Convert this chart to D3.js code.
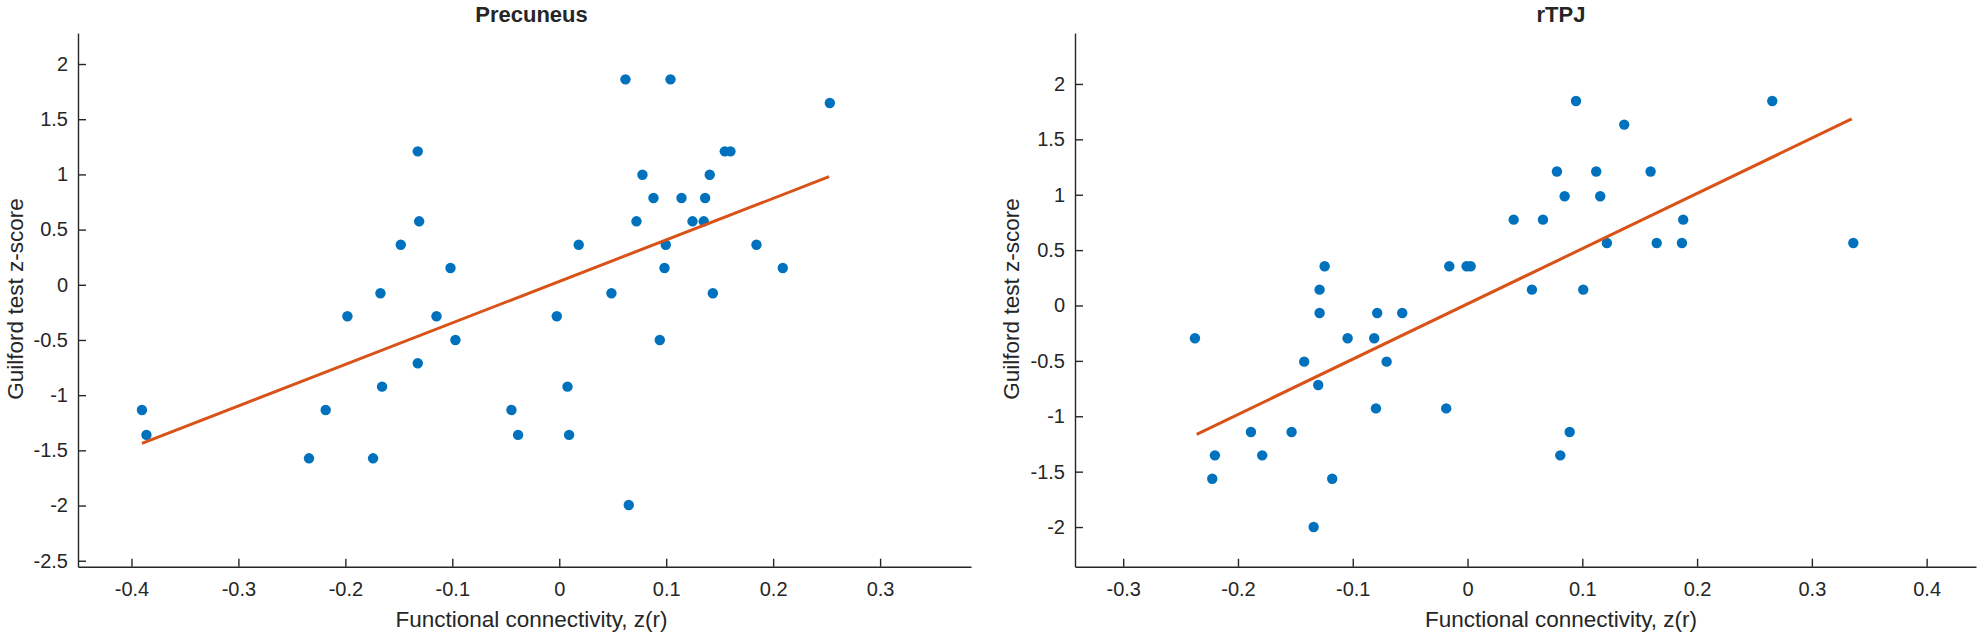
<!DOCTYPE html>
<html>
<head>
<meta charset="utf-8">
<script src="https://cdn.jsdelivr.net/npm/d3@7/dist/d3.min.js"></script>
<style>
  html, body { margin: 0; padding: 0; background: #ffffff; }
  svg { display: block; }
  text { font-family: "Liberation Sans", Arial, Helvetica, sans-serif; fill: #262626; }
</style>
</head>
<body>
<svg id="chart" width="1981" height="639"></svg>
<script>
// ---------- Data ----------
const panelTitles = ["Precuneus", "rTPJ"];
const xAxisLabel = "Functional connectivity, z(r)";
const yAxisLabel = "Guilford test z-score";

// Precuneus: functional connectivity (x) vs Guilford z-score (y)
const precX = [-0.1323, -0.1310, -0.1482, -0.1017, -0.1672, -0.1981, -0.1148, -0.0971, -0.1323, -0.1657,
               -0.2184, -0.3902, -0.3860, -0.2340, -0.1741, 0.0619, 0.1040, 0.2530, 0.1548, 0.1601,
               0.0778, 0.1407, 0.0881, 0.1143, 0.1364, 0.0722, 0.1246, 0.1351, 0.0182, 0.0996,
               0.1844, 0.0984, 0.2090, 0.0488, 0.1436, -0.0023, 0.0940, 0.0077, -0.0447, -0.0385,
               0.0092, 0.0650];
const precY = [1.209, 0.575, 0.363, 0.152, -0.077, -0.285, -0.285, -0.500, -0.711, -0.923,
               -1.134, -1.134, -1.360, -1.572, -1.572, 1.861, 1.861, 1.647, 1.209, 1.209,
               0.997, 0.997, 0.786, 0.786, 0.786, 0.575, 0.575, 0.575, 0.363, 0.363,
               0.363, 0.152, 0.152, -0.077, -0.077, -0.285, -0.500, -0.923, -1.134, -1.360,
               -1.360, -1.995];
const precFitX = [-0.3902, 0.2523];
const precFitY = [-1.436, 0.979];

// rTPJ
const rtpjX = [-0.2375, -0.1887, -0.2201, -0.1789, -0.2224, 0.0945, 0.1365, 0.0779, 0.1121, 0.1595,
               0.0846, 0.1156, 0.0402, 0.0657, 0.1879, 0.1214, 0.1648, 0.1868, -0.1245, -0.0159,
               -0.0008, 0.0027, -0.1289, 0.0561, 0.1008, -0.1289, -0.0787, -0.0569, -0.1045, -0.0813,
               -0.1423, -0.0705, -0.1301, -0.0798, -0.0186, -0.1533, 0.0890, 0.0808, -0.1179, -0.1341,
               0.2655, 0.3361];
const rtpjY = [-0.296, -1.142, -1.353, -1.353, -1.564, 1.846, 1.633, 1.210, 1.210, 1.210,
               0.986, 0.986, 0.775, 0.775, 0.775, 0.564, 0.564, 0.564, 0.354, 0.354,
               0.354, 0.354, 0.143, 0.143, 0.143, -0.068, -0.068, -0.068, -0.296, -0.296,
               -0.507, -0.507, -0.718, -0.929, -0.929, -1.142, -1.142, -1.353, -1.564, -2.000,
               1.846, 0.564];
const rtpjFitX = [-0.2360, 0.3347];
const rtpjFitY = [-1.163, 1.684];

// Axis limits and ticks
const precXDomain = [-0.45, 0.385];
const precYDomain = [-2.554, 2.281];
const precXTicks = [-0.4, -0.3, -0.2, -0.1, 0, 0.1, 0.2, 0.3];
const precYTicks = [-2.5, -2, -1.5, -1, -0.5, 0, 0.5, 1, 1.5, 2];

const rtpjXDomain = [-0.342, 0.443];
const rtpjYDomain = [-2.358, 2.46];
const rtpjXTicks = [-0.3, -0.2, -0.1, 0, 0.1, 0.2, 0.3, 0.4];
const rtpjYTicks = [-2, -1.5, -1, -0.5, 0, 0.5, 1, 1.5, 2];

// ---------- Drawing ----------
const svg = d3.select("#chart");
svg.append("rect").attr("width", 1981).attr("height", 639).attr("fill", "#ffffff");

const MARKER = "#0072BD";
const FIT = "#D95319";
const AXIS = "#262626";

function drawPanel(cfg) {
  const x = d3.scaleLinear().domain(cfg.xDomain).range([cfg.left, cfg.right]);
  const y = d3.scaleLinear().domain(cfg.yDomain).range([cfg.bottom, cfg.top]);
  const g = svg.append("g");

  const fmt = d => String(d);

  const xAxis = g.append("g")
    .attr("transform", `translate(0,${cfg.bottom})`)
    .call(d3.axisBottom(x).tickValues(cfg.xTicks).tickFormat(fmt)
      .tickSizeInner(-8).tickSizeOuter(0).tickPadding(15));
  const yAxis = g.append("g")
    .attr("transform", `translate(${cfg.left},0)`)
    .call(d3.axisLeft(y).tickValues(cfg.yTicks).tickFormat(fmt)
      .tickSizeInner(-8).tickSizeOuter(0).tickPadding(10));

  [xAxis, yAxis].forEach(a => {
    a.select(".domain").attr("stroke", AXIS).attr("stroke-width", 1.4);
    a.selectAll(".tick line").attr("stroke", AXIS).attr("stroke-width", 1.4);
    a.selectAll(".tick text")
      .attr("fill", AXIS)
      .style("font-family", '"Liberation Sans", Arial, sans-serif')
      .style("font-size", "20px");
  });

  // points
  const pts = cfg.xs.map((v, i) => ({ x: v, y: cfg.ys[i] }));
  g.append("g").selectAll("circle").data(pts).join("circle")
    .attr("cx", d => x(d.x))
    .attr("cy", d => y(d.y))
    .attr("r", 5.2)
    .attr("fill", MARKER);

  // fitted line
  const fitPts = cfg.fitX.map((v, i) => [v, cfg.fitY[i]]);
  g.append("path")
    .datum(fitPts)
    .attr("d", d3.line().x(d => x(d[0])).y(d => y(d[1])))
    .attr("fill", "none")
    .attr("stroke", FIT)
    .attr("stroke-width", 3);

  // title
  g.append("text")
    .attr("x", cfg.titleX).attr("y", 22)
    .attr("text-anchor", "middle")
    .style("font-size", "22px").style("font-weight", "bold")
    .attr("fill", "#000000")
    .text(cfg.title);

  // x label
  g.append("text")
    .attr("x", cfg.titleX).attr("y", 627)
    .attr("text-anchor", "middle")
    .style("font-size", "22.5px")
    .text(xAxisLabel);

  // y label
  g.append("text")
    .attr("transform", `translate(${cfg.yLabelX},299) rotate(-90)`)
    .attr("text-anchor", "middle")
    .style("font-size", "22.5px")
    .text(yAxisLabel);
}

drawPanel({
  title: panelTitles[0], xs: precX, ys: precY, fitX: precFitX, fitY: precFitY,
  xDomain: precXDomain, yDomain: precYDomain, xTicks: precXTicks, yTicks: precYTicks,
  left: 78, right: 971, top: 33, bottom: 566.7, titleX: 531.5, yLabelX: 23
});
drawPanel({
  title: panelTitles[1], xs: rtpjX, ys: rtpjY, fitX: rtpjFitX, fitY: rtpjFitY,
  xDomain: rtpjXDomain, yDomain: rtpjYDomain, xTicks: rtpjXTicks, yTicks: rtpjYTicks,
  left: 1075, right: 1976, top: 33, bottom: 566.7, titleX: 1561, yLabelX: 1019
});
</script>
</body>
</html>
